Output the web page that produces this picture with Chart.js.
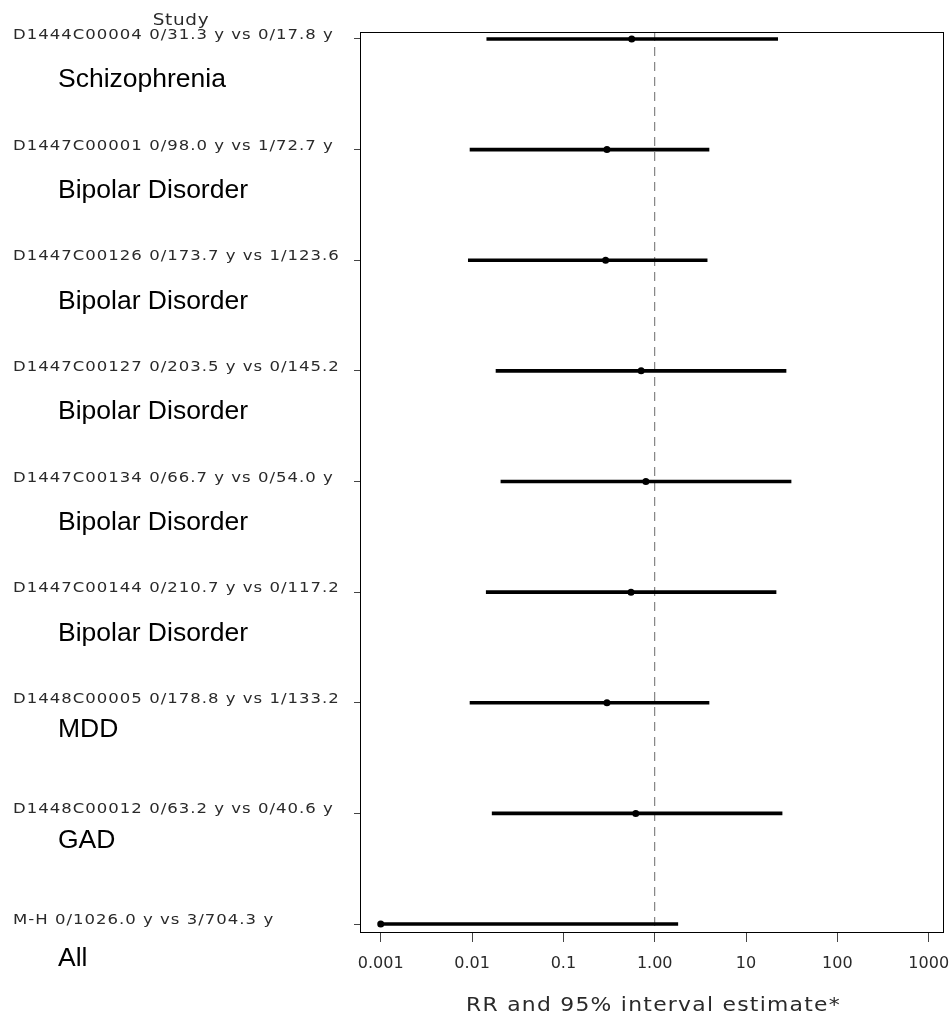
<!DOCTYPE html>
<html>
<head>
<meta charset="utf-8">
<script src="https://cdn.jsdelivr.net/npm/chart.js@4.4.1/dist/chart.umd.min.js"></script>
<style>
  html, body { margin: 0; padding: 0; background: #fff; }
  canvas { display: block; }
</style>
</head>
<body>
<canvas id="forest" width="952" height="1017"></canvas>
<script>
// One row per study, top to bottom; the last row is the pooled M-H estimate
const studyLabels = [
  "D1444C00004 0/31.3 y vs 0/17.8 y",
  "D1447C00001 0/98.0 y vs 1/72.7 y",
  "D1447C00126 0/173.7 y vs 1/123.6",
  "D1447C00127 0/203.5 y vs 0/145.2",
  "D1447C00134 0/66.7 y vs 0/54.0 y",
  "D1447C00144 0/210.7 y vs 0/117.2",
  "D1448C00005 0/178.8 y vs 1/133.2",
  "D1448C00012 0/63.2 y vs 0/40.6 y",
  "M-H 0/1026.0 y vs 3/704.3 y"
];
const groupLabels = [
  "Schizophrenia", "Bipolar Disorder", "Bipolar Disorder", "Bipolar Disorder",
  "Bipolar Disorder", "Bipolar Disorder", "MDD", "GAD", "All"
];
const rr    = [0.56, 0.30, 0.29, 0.71, 0.80, 0.55, 0.30, 0.62, 0.001];
const lower = [0.0145, 0.0095, 0.0091, 0.0183, 0.0207, 0.0143, 0.0095, 0.0166, 0.001];
const upper = [22.2, 3.93, 3.75, 27.4, 31.1, 21.3, 3.93, 24.8, 1.79];
const tickValues = [0.001, 0.01, 0.1, 1, 10, 100, 1000];
const tickLabels = ["0.001", "0.01", "0.1", "1.00", "10", "100", "1000"];

const rows = studyLabels.map((_, i) => i + 1);

// axis extents
const xMin = 0.000593, xMax = 1434;
const yMin = 0.937, yMax = 9.072;

// baseline drop of the group name under each study line
const groupDy = [48, 48.5, 48.5, 48.5, 48.5, 48.5, 34, 35, 42];

const thinFont = '"DejaVu Sans", "Liberation Sans", sans-serif';

// the plotter's text face is wide, so stretch DejaVu sideways
function wideText(ctx, text, x, y, sx, spacing) {
  ctx.save();
  ctx.scale(sx, 1);
  ctx.letterSpacing = spacing + 'px';
  ctx.fillText(text, x / sx, y);
  ctx.restore();
}

const forestText = {
  id: 'forestText',
  afterDraw(chart) {
    const { ctx, chartArea: a, scales: { y } } = chart;
    ctx.save();

    // box round the plot
    ctx.strokeStyle = '#000';
    ctx.lineWidth = 1;
    ctx.strokeRect(a.left + 0.5, a.top + 0.5, a.right - a.left, a.bottom - a.top);

    ctx.fillStyle = '#2a2a2a';
    ctx.textBaseline = 'alphabetic';

    // column header
    ctx.font = '16px ' + thinFont;
    ctx.textAlign = 'center';
    wideText(ctx, 'Study', 181, 25, 1.15, 0.6);

    // study lines
    ctx.font = '14px ' + thinFont;
    ctx.textAlign = 'left';
    studyLabels.forEach((s, i) => {
      wideText(ctx, s, 13, y.getPixelForValue(rows[i]), 1.18, 0.85);
    });

    // indication under each study
    ctx.fillStyle = '#000';
    ctx.font = '26.5px "Liberation Sans", Arial, sans-serif';
    groupLabels.forEach((g, i) => {
      ctx.fillText(g, 58, y.getPixelForValue(rows[i]) + groupDy[i]);
    });

    // x axis title
    ctx.fillStyle = '#2a2a2a';
    ctx.font = '19px ' + thinFont;
    ctx.textAlign = 'center';
    wideText(ctx, 'RR and 95% interval estimate*', (a.left + a.right) / 2 + 2, 1011, 1.15, 1.1);

    ctx.restore();
  }
};

new Chart(document.getElementById('forest'), {
  data: {
    datasets: [
      {
        // point estimates
        type: 'scatter',
        data: rows.map((r, i) => ({ x: rr[i], y: r })),
        pointRadius: 3.5,
        pointHoverRadius: 3.5,
        backgroundColor: '#000',
        borderWidth: 0
      },
      {
        // 95% intervals as floating horizontal bars
        type: 'bar',
        indexAxis: 'y',
        data: rows.map((r, i) => ({ y: r, x: [lower[i], upper[i]] })),
        backgroundColor: '#000',
        borderWidth: 0,
        barThickness: 3
      },
      {
        // line of no effect at RR = 1
        type: 'line',
        data: [{ x: 1, y: yMin }, { x: 1, y: yMax }],
        borderColor: '#6a6a6a',
        borderWidth: 1,
        borderDash: [9, 6],
        pointRadius: 0,
        fill: false
      }
    ]
  },
  options: {
    responsive: false,
    animation: false,
    layout: { padding: { top: 32, right: 9, bottom: 0, left: 0 } },
    plugins: {
      legend: { display: false },
      tooltip: { enabled: false }
    },
    scales: {
      x: {
        type: 'logarithmic',
        min: xMin,
        max: xMax,
        offset: false,
        afterBuildTicks: (s) => { s.ticks = tickValues.map(v => ({ value: v })); },
        afterFit: (s) => { s.height = 85; s.paddingLeft = 0; s.paddingRight = 0; },
        ticks: {
          callback: (v, i) => tickLabels[i],
          font: { family: thinFont, size: 16 },
          color: '#2a2a2a',
          padding: 12,
          maxRotation: 0,
          autoSkip: false
        },
        grid: { drawOnChartArea: false, offset: false, tickLength: 10, color: '#444' },
        border: { display: false }
      },
      y: {
        type: 'linear',
        reverse: true,
        min: yMin,
        max: yMax,
        offset: false,
        afterBuildTicks: (s) => { s.ticks = rows.map(v => ({ value: v })); },
        afterFit: (s) => { s.width = 360; s.paddingTop = 0; s.paddingBottom = 0; },
        ticks: { display: false },
        grid: { drawOnChartArea: false, offset: false, tickLength: 6, color: '#444' },
        border: { display: false }
      }
    }
  },
  plugins: [forestText]
});
</script>
</body>
</html>
